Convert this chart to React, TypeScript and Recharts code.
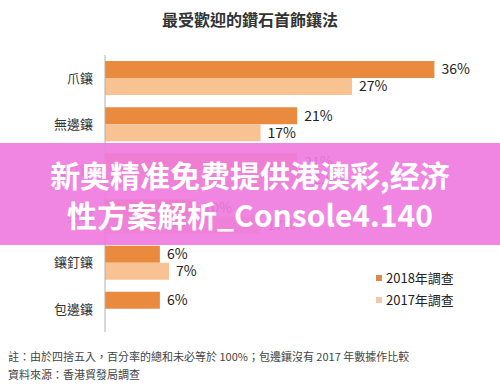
import { BarChart, Bar, XAxis, YAxis, LabelList } from "recharts";

const settings = ["爪鑲", "無邊鑲", "密釘鑲", "夾鑲", "鑲釘鑲", "包邊鑲"];
const survey2018 = [36, 21, 21, 10, 6, 6];
const survey2017 = [27, 17, 22, 17, 7, null];
const seriesNames = ["2018年調查", "2017年調查"];

const data = settings.map((name, i) => ({
  name,
  y2018: survey2018[i],
  y2017: survey2017[i],
}));

const font = "'Noto Sans CJK TC', 'Noto Sans', sans-serif";
const colors = ["#e98a3e", "#f9c292"];

const pct = (v: any) => (v == null ? "" : `${v}%`);

export default function App() {
  return (
    <div style={{ position: "absolute", left: 0, top: 0, width: 500, height: 389, background: "#fff", overflow: "hidden" }}>
      <div
        style={{
          position: "absolute",
          top: 7,
          width: 500,
          textAlign: "center",
          fontFamily: font,
          fontSize: 16,
          fontWeight: 700,
          color: "#333",
        }}
      >
        最受歡迎的鑽石首飾鑲法
      </div>
      <BarChart
        width={500}
        height={389}
        data={data}
        layout="vertical"
        margin={{ top: 55, right: 29, bottom: 57, left: 0 }}
        barGap={0}
        barSize={17}
      >
        <XAxis type="number" domain={[0, 40]} hide />
        <YAxis
          type="category"
          dataKey="name"
          width={105}
          tickLine={false}
          tickSize={0}
          tickMargin={12}
          axisLine={{ stroke: "#b0b0b0" }}
          tick={{ fill: "#333", fontSize: 13, fontFamily: font }}
        />
        <Bar dataKey="y2018" fill={colors[0]} isAnimationActive={false}>
          <LabelList dataKey="y2018" position="right" offset={7} formatter={pct} fill="#222" fontSize={14} fontFamily={font} />
        </Bar>
        <Bar dataKey="y2017" fill={colors[1]} isAnimationActive={false}>
          <LabelList dataKey="y2017" position="right" offset={7} formatter={pct} fill="#222" fontSize={14} fontFamily={font} />
        </Bar>
      </BarChart>
      <div
        style={{
          position: "absolute",
          left: 376,
          top: 267,
          fontFamily: font,
          fontSize: 13,
          color: "#222",
          lineHeight: "22px",
        }}
      >
        {seriesNames.map((s, i) => (
          <div key={s} style={{ display: "flex", alignItems: "center" }}>
            <span style={{ width: 6, height: 6, background: i === 0 ? "#d98a4c" : "#f2c9a8", marginRight: 4, display: "inline-block" }} />
            {s}
          </div>
        ))}
      </div>
      <div
        style={{
          position: "absolute",
          left: 8,
          top: 347,
          fontFamily: font,
          fontSize: 11,
          color: "#444",
          lineHeight: "18px",
        }}
      >
        <div>註：由於四捨五入，百分率的總和未必等於 100%；包邊鑲沒有 2017 年數據作比較</div>
        <div>資料來源：香港貿發局調查</div>
      </div>
      <div
        style={{
          position: "absolute",
          left: 0,
          top: 143,
          width: 500,
          height: 102,
          background: "rgba(239, 124, 222, 0.92)",
          display: "flex",
          flexDirection: "column",
          justifyContent: "center",
          alignItems: "center",
          fontFamily: "'Noto Sans CJK SC', sans-serif",
          fontWeight: 700,
          fontSize: 30,
          lineHeight: "40px",
          color: "#fff",
          textAlign: "center",
        }}
      >
        <div>新奥精准免费提供港澳彩,经济</div>
        <div>性方案解析_Console4.140</div>
      </div>
    </div>
  );
}
